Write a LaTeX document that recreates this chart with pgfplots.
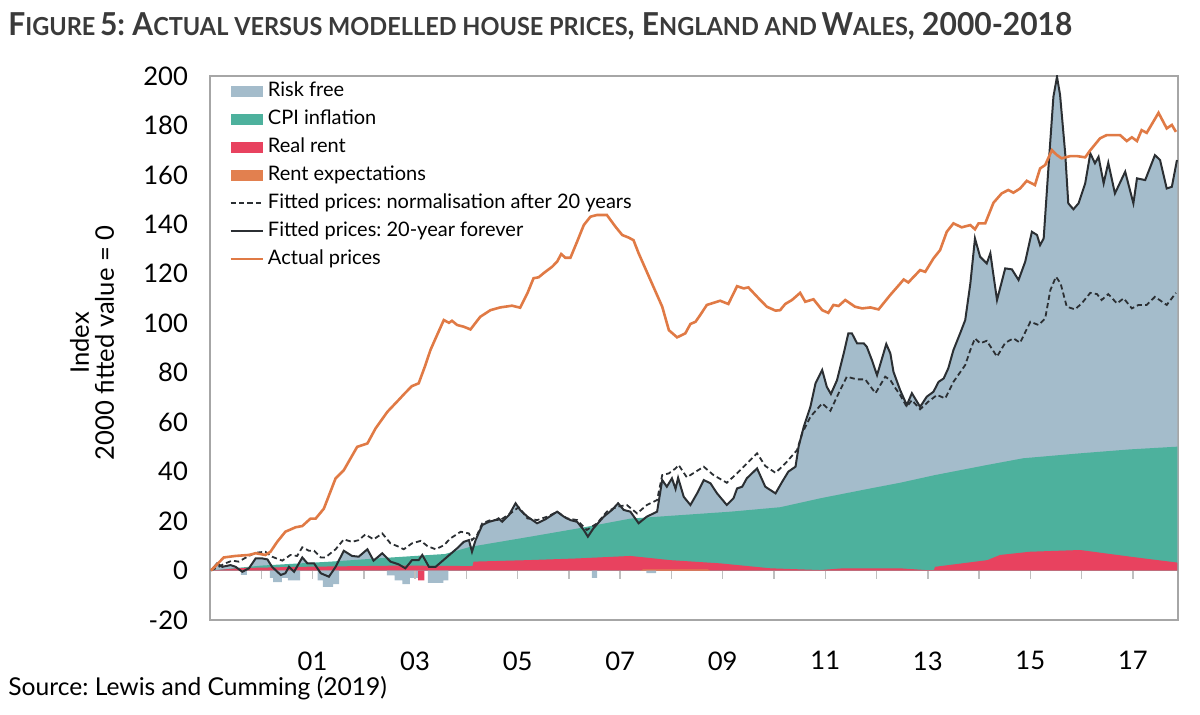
\documentclass[border=0pt]{standalone}
\usepackage{fontspec}
\setmainfont{Lato}
\usepackage{graphicx}
\usepackage{pgfplots}
\pgfplotsset{compat=1.18}
\definecolor{riskc}{HTML}{A4BCCB}
\definecolor{cpic}{HTML}{4DB19D}
\definecolor{rentc}{HTML}{E8425F}
\definecolor{expc}{HTML}{E2804F}
\definecolor{actc}{HTML}{E07A45}
\definecolor{fitc}{HTML}{2B2F33}
\definecolor{framec}{HTML}{A6A6A6}
\definecolor{tickc}{HTML}{BFBFBF}
\definecolor{titlec}{HTML}{3A3A3A}
\newcommand\tbc[1]{{\fontsize{15.8}{18}\selectfont #1}}
\newcommand\tsc[1]{{\fontsize{12.4}{14}\selectfont #1}}
\pgfplotsset{
  myarea/.style={legend image code/.code={\fill[##1] (0pt,-2.75pt) rectangle (16pt,2.75pt);}},
  myline/.style={legend image code/.code={\draw[##1] (0pt,0pt) -- (16pt,0pt);}},
}
\frenchspacing
\begin{document}
\begin{tikzpicture}
\path[use as bounding box] (0pt,0pt) rectangle (600pt,357.5pt);
\node[anchor=base west, inner sep=0pt, text=titlec] at (4pt,339.5pt)
  {\resizebox{532pt}{\height}{\bfseries\tbc{F}\tsc{IGURE} \tbc{5: A}\tsc{CTUAL VERSUS MODELLED HOUSE PRICES}\tbc{, E}\tsc{NGLAND AND} \tbc{W}\tsc{ALES}\tbc{, 2000-2018}}};
\node[anchor=base west, inner sep=0pt] at (4pt,9.5pt) {\fontsize{12.3}{14}\selectfont Source: Lewis and Cumming (2019)};
\node[rotate=90, align=center, font=\fontsize{12.8}{12.5}\selectfont] at (46pt,186pt) {Index\\2000 fitted value = 0};
\begin{axis}[
  at={(105pt,47.5pt)}, anchor=south west, scale only axis,
  width=484pt, height=272pt,
  xmin=1999, xmax=2017.88, ymin=-20, ymax=200,
  ytick={-20,0,20,40,60,80,100,120,140,160,180,200},
  xtick={2001,2003,2005,2007,2009,2011,2013,2015,2017},
  xticklabels={01,03,05,07,09,11,13,15,17},
  major tick length=0pt,
  axis line style={framec, line width=0.6pt},
  tick label style={font=\fontsize{12.8}{14}\selectfont},
  /pgf/number format/assume math mode=true,
  yticklabel style={xshift=-7.5pt},
  xticklabel style={yshift=-12.2pt},
  legend cell align=left,
  legend style={at={(0.0196,0.99)}, anchor=north west, draw=none, fill=none, inner sep=0pt,
    font=\fontsize{10}{12}\selectfont,
    nodes={inner sep=0pt, text height=7.3pt, text depth=2pt},
    row sep=4.7pt,
    /tikz/every odd column/.append style={column sep=2pt}},
]
% Risk free (positive part): top of stack = fitted 20-year forever, floored at 0
\addplot[fill=riskc, draw=none, forget plot] coordinates {
(1999.02,0) (1999.14,2.9) (1999.24,1.5) (1999.40,2.2) (1999.50,1.5) (1999.63,0) (1999.76,0.9) (1999.89,4.9) (2000.02,4.9) (2000.12,4.5) (2000.21,1.5) (2000.38,0) (2000.47,0) (2000.54,1.5) (2000.64,0) (2000.80,5.3) (2000.90,2.9) (2001.03,2.9) (2001.16,0) (2001.32,0) (2001.45,1.5) (2001.61,8) (2001.77,5.9) (2001.90,5.6) (2002.07,8.6) (2002.19,4) (2002.36,7) (2002.52,3.6) (2002.68,2.5) (2002.81,0.9) (2002.94,4.2) (2003.07,4.2) (2003.14,6.3) (2003.27,1.5) (2003.40,1.5) (2003.63,5.6) (2003.82,9) (2003.95,11.6) (2004.05,12.3) (2004.11,7.6) (2004.18,12.3) (2004.31,18.4) (2004.44,19.7) (2004.57,20.4) (2004.63,21.1) (2004.70,19.7) (2004.83,22.4) (2004.96,27.2) (2005.05,24.5) (2005.19,21.8) (2005.38,19.1) (2005.54,20.7) (2005.77,23.8) (2005.90,21.8) (2006.03,20.4) (2006.16,19.7) (2006.29,16.4) (2006.37,13.7) (2006.48,17.1) (2006.68,21.8) (2006.84,24.5) (2006.96,27.2) (2007.07,24.5) (2007.20,23.8) (2007.36,19.1) (2007.52,21.8) (2007.72,23.8) (2007.82,36.6) (2007.91,33.9) (2008.01,37.3) (2008.08,33) (2008.13,37.5) (2008.24,29.8) (2008.37,26.5) (2008.50,31.2) (2008.63,36.6) (2008.76,35.3) (2008.89,31.2) (2009.08,26.5) (2009.21,29.2) (2009.28,33.2) (2009.38,33.9) (2009.47,37.3) (2009.67,41.3) (2009.83,33.9) (2010.03,31.2) (2010.16,35.9) (2010.28,40) (2010.42,42) (2010.48,50.1) (2010.58,58.1) (2010.71,66.2) (2010.81,75.7) (2010.94,81.1) (2011.03,74.3) (2011.11,71.4) (2011.23,77) (2011.36,87.8) (2011.45,95.9) (2011.52,95.9) (2011.62,91.9) (2011.75,91.9) (2011.81,90.5) (2011.91,85.1) (2012.01,79) (2012.19,91.6) (2012.27,87.8) (2012.33,80.4) (2012.46,73) (2012.59,66.9) (2012.69,71.7) (2012.85,66.2) (2012.98,70.3) (2013.11,72.3) (2013.21,76.3) (2013.31,77.7) (2013.40,81.8) (2013.50,89.2) (2013.63,95.9) (2013.73,101.3) (2013.83,116.1) (2013.92,134.3) (2014.02,126.9) (2014.15,124.2) (2014.22,128.3) (2014.35,109.4) (2014.51,122.2) (2014.64,121.8) (2014.77,117.5) (2014.90,124.9) (2015.03,137) (2015.13,135.7) (2015.19,131.6) (2015.26,134.3) (2015.35,162) (2015.45,191.6) (2015.52,199.7) (2015.58,192.3) (2015.68,168.7) (2015.74,148.5) (2015.84,146.1) (2015.94,148.5) (2016.07,156.6) (2016.17,168.7) (2016.26,164.7) (2016.33,167.3) (2016.43,156.6) (2016.52,164.9) (2016.65,152.5) (2016.85,161.3) (2017.01,148.5) (2017.08,158.6) (2017.24,157.9) (2017.43,168) (2017.53,166) (2017.66,154.5) (2017.76,155.2) (2017.87,166)
} \closedcycle;
% CPI inflation (cumulative top: real rent + CPI)
\addplot[fill=cpic, draw=none, forget plot] coordinates {
(1999.02,0) (1999.5,1) (2000.0,2) (2001.35,3.6) (2002.33,5.0) (2003.0,5.9) (2003.59,6.7) (2004.08,9.6) (2005.25,13.7) (2006.17,17) (2007.2,21) (2008.17,22.4) (2009.15,23.8) (2010.12,25.6) (2010.90,29.2) (2011.88,33.2) (2012.46,35.5) (2013.14,38.6) (2014.16,42.7) (2014.86,45.4) (2015.97,47.4) (2016.95,49) (2017.87,50.1)
} \closedcycle;
% Real rent
\addplot[fill=rentc, draw=none, forget plot] coordinates {
(1999.02,0) (1999.6,1) (2000.77,1.5) (2002.72,2) (2004.12,1.8) (2004.14,3.6) (2005.19,4.2) (2006.17,4.9) (2007.2,5.9) (2007.84,4.5) (2007.98,4.2) (2008.95,2.9) (2009.93,0.9) (2010.9,0.2) (2011.35,0.9) (2012.46,0.9) (2012.95,0.2) (2013.12,0.2) (2013.14,1.5) (2014.16,4.2) (2014.41,6.3) (2014.99,7.6) (2015.97,8.3) (2016.95,5.6) (2017.87,3.2)
} \closedcycle;
% Rent expectations (tiny)
\addplot[fill=expc, draw=none, forget plot] coordinates {
(2007.40,0) (2007.45,0.5) (2008.70,0.5) (2008.75,0)
} \closedcycle;
% Risk free (negative part)
\addplot[fill=riskc, draw=none, const plot, forget plot] coordinates {
(1999.02,0) (1999.60,-1.8) (1999.72,0) (2000.17,-3) (2000.23,-4.7) (2000.40,-3) (2000.52,-4) (2000.76,0) (2001.10,-4) (2001.20,-6.6) (2001.40,-5.5) (2001.52,0) (2002.45,-2) (2002.60,-4) (2002.75,-5.5) (2002.90,-3) (2003.08,0) (2003.25,-5) (2003.55,-4) (2003.65,0) (2006.45,-3) (2006.55,0) (2007.51,-1) (2007.70,0)
} \closedcycle;
% Real rent (negative part)
\addplot[fill=rentc, draw=none, const plot, forget plot] coordinates {
(2003.02,0) (2003.06,-4) (2003.18,0)
} \closedcycle;
% Fitted prices: normalisation after 20 years
\addplot[fitc, line width=0.9pt, dash pattern=on 2.6pt off 1.6pt, forget plot] coordinates {
(1999.02,0) (1999.17,1.5) (1999.30,2.9) (1999.43,4) (1999.56,3.6) (1999.73,5.6) (1999.89,7.2) (2000.08,7.6) (2000.21,5.6) (2000.41,4) (2000.57,6.3) (2000.70,5.9) (2000.80,9.4) (2000.93,8) (2001.03,8) (2001.16,5.3) (2001.25,5.3) (2001.45,8.6) (2001.61,12.6) (2001.77,11.6) (2001.90,12.3) (2002.03,14.6) (2002.19,12.6) (2002.36,15) (2002.52,11) (2002.65,9.9) (2002.78,8.6) (2002.94,11) (2003.11,12) (2003.24,9.9) (2003.40,8.6) (2003.56,10.2) (2003.69,13) (2003.89,15.7) (2004.05,15) (2004.11,12.3) (2004.21,14.4) (2004.31,19.1) (2004.47,20.4) (2004.66,20.4) (2004.86,23.1) (2005.02,25.6) (2005.19,21.1) (2005.38,20.4) (2005.58,21.8) (2005.77,23.8) (2005.96,21.1) (2006.16,20.4) (2006.35,16.4) (2006.55,19.1) (2006.74,23.8) (2006.94,25.8) (2007.13,26.5) (2007.33,23.1) (2007.52,26.5) (2007.72,28.5) (2007.82,38.6) (2007.95,39.3) (2008.08,41.3) (2008.14,42.7) (2008.30,37.7) (2008.63,42) (2008.82,38.6) (2009.08,35.5) (2009.28,39.3) (2009.47,43.3) (2009.67,47.4) (2009.83,42.3) (2010.03,39.5) (2010.22,43.3) (2010.45,48.7) (2010.55,55.5) (2010.71,62.2) (2010.94,67.6) (2011.10,64.6) (2011.29,73) (2011.42,78.4) (2011.62,77.3) (2011.78,77.3) (2011.98,71.7) (2012.17,78.4) (2012.27,77) (2012.37,73.7) (2012.46,71) (2012.59,66.2) (2012.69,68.9) (2012.85,65.2) (2013.01,68.3) (2013.18,71) (2013.34,69.6) (2013.50,76.3) (2013.73,83.1) (2013.83,89.2) (2013.92,93.9) (2014.02,91.9) (2014.15,92.9) (2014.35,86.5) (2014.51,92.1) (2014.67,93.9) (2014.80,92.1) (2015.00,100.6) (2015.16,99.3) (2015.29,102) (2015.39,113.4) (2015.50,118.8) (2015.59,116.1) (2015.71,106.7) (2015.87,105.6) (2016.00,108) (2016.17,112.3) (2016.30,111.8) (2016.39,109.4) (2016.52,111.8) (2016.69,108) (2016.82,110.1) (2016.98,106) (2017.11,107.4) (2017.27,107.4) (2017.43,110.7) (2017.66,107.4) (2017.84,112.3)
};
% Fitted prices: 20-year forever
\addplot[fitc, line width=1pt, forget plot] coordinates {
(1999.02,0) (1999.14,2.9) (1999.24,1.5) (1999.40,2.2) (1999.50,1.5) (1999.63,-0.5) (1999.76,0.9) (1999.89,4.9) (2000.02,4.9) (2000.12,4.5) (2000.21,1.5) (2000.38,-1.8) (2000.47,-1.1) (2000.54,1.5) (2000.64,-0.5) (2000.80,5.3) (2000.90,2.9) (2001.03,2.9) (2001.16,-1.1) (2001.32,-2.5) (2001.45,1.5) (2001.61,8) (2001.77,5.9) (2001.90,5.6) (2002.07,8.6) (2002.19,4) (2002.36,7) (2002.52,3.6) (2002.68,2.5) (2002.81,0.9) (2002.94,4.2) (2003.07,4.2) (2003.14,6.3) (2003.27,1.5) (2003.40,1.5) (2003.63,5.6) (2003.82,9) (2003.95,11.6) (2004.05,12.3) (2004.11,7.6) (2004.18,12.3) (2004.31,18.4) (2004.44,19.7) (2004.57,20.4) (2004.63,21.1) (2004.70,19.7) (2004.83,22.4) (2004.96,27.2) (2005.05,24.5) (2005.19,21.8) (2005.38,19.1) (2005.54,20.7) (2005.77,23.8) (2005.90,21.8) (2006.03,20.4) (2006.16,19.7) (2006.29,16.4) (2006.37,13.7) (2006.48,17.1) (2006.68,21.8) (2006.84,24.5) (2006.96,27.2) (2007.07,24.5) (2007.20,23.8) (2007.36,19.1) (2007.52,21.8) (2007.72,23.8) (2007.82,36.6) (2007.91,33.9) (2008.01,37.3) (2008.08,33) (2008.13,37.5) (2008.24,29.8) (2008.37,26.5) (2008.50,31.2) (2008.63,36.6) (2008.76,35.3) (2008.89,31.2) (2009.08,26.5) (2009.21,29.2) (2009.28,33.2) (2009.38,33.9) (2009.47,37.3) (2009.67,41.3) (2009.83,33.9) (2010.03,31.2) (2010.16,35.9) (2010.28,40) (2010.42,42) (2010.48,50.1) (2010.58,58.1) (2010.71,66.2) (2010.81,75.7) (2010.94,81.1) (2011.03,74.3) (2011.11,71.4) (2011.23,77) (2011.36,87.8) (2011.45,95.9) (2011.52,95.9) (2011.62,91.9) (2011.75,91.9) (2011.81,90.5) (2011.91,85.1) (2012.01,79) (2012.19,91.6) (2012.27,87.8) (2012.33,80.4) (2012.46,73) (2012.59,66.9) (2012.69,71.7) (2012.85,66.2) (2012.98,70.3) (2013.11,72.3) (2013.21,76.3) (2013.31,77.7) (2013.40,81.8) (2013.50,89.2) (2013.63,95.9) (2013.73,101.3) (2013.83,116.1) (2013.92,134.3) (2014.02,126.9) (2014.15,124.2) (2014.22,128.3) (2014.35,109.4) (2014.51,122.2) (2014.64,121.8) (2014.77,117.5) (2014.90,124.9) (2015.03,137) (2015.13,135.7) (2015.19,131.6) (2015.26,134.3) (2015.35,162) (2015.45,191.6) (2015.52,199.7) (2015.58,192.3) (2015.68,168.7) (2015.74,148.5) (2015.84,146.1) (2015.94,148.5) (2016.07,156.6) (2016.17,168.7) (2016.26,164.7) (2016.33,167.3) (2016.43,156.6) (2016.52,164.9) (2016.65,152.5) (2016.85,161.3) (2017.01,148.5) (2017.08,158.6) (2017.24,157.9) (2017.43,168) (2017.53,166) (2017.66,154.5) (2017.76,155.2) (2017.86,166)
};
% Actual prices
\addplot[actc, line width=1.3pt, forget plot] coordinates {
(1999.02,0) (1999.27,5.3) (1999.50,5.9) (1999.76,6.3) (1999.89,7.0) (2000.08,6.3) (2000.18,7.6) (2000.31,11.6) (2000.47,15.7) (2000.67,17.5) (2000.80,18) (2000.96,21) (2001.06,21) (2001.22,25) (2001.45,37.3) (2001.61,40.6) (2001.87,50) (2002.07,51.4) (2002.23,57.5) (2002.46,64.2) (2002.68,69) (2002.81,71.9) (2002.94,74.6) (2003.07,75.7) (2003.20,83) (2003.30,89.2) (2003.40,93.9) (2003.56,101.3) (2003.66,100.2) (2003.72,101) (2003.82,99.3) (2003.95,98.6) (2004.08,97.5) (2004.27,102.6) (2004.47,105.3) (2004.66,106.4) (2004.89,107.1) (2005.05,106.3) (2005.19,112.1) (2005.31,118.2) (2005.41,118.6) (2005.54,120.8) (2005.67,122.8) (2005.77,124.9) (2005.85,128) (2005.93,126.5) (2006.03,126.5) (2006.16,133) (2006.29,139.7) (2006.42,143.1) (2006.55,143.8) (2006.74,143.8) (2006.91,139) (2007.04,135.7) (2007.17,134.6) (2007.26,133.6) (2007.36,128.3) (2007.59,117.5) (2007.82,106.7) (2007.95,97.2) (2008.11,94.3) (2008.27,95.9) (2008.37,99.7) (2008.47,100.6) (2008.56,103.3) (2008.69,107.4) (2008.95,109.1) (2009.11,107.8) (2009.28,115) (2009.41,114.1) (2009.50,114.5) (2009.70,110.1) (2009.86,106.7) (2010.03,105.1) (2010.12,105.3) (2010.22,107.8) (2010.35,109.4) (2010.51,112.3) (2010.61,108.7) (2010.77,109.7) (2010.94,105.3) (2011.06,104.2) (2011.16,107.4) (2011.26,107) (2011.39,109.4) (2011.58,106.7) (2011.72,106) (2011.88,106.4) (2012.04,105.6) (2012.27,111.5) (2012.46,116) (2012.53,117.7) (2012.62,116.5) (2012.85,121.5) (2012.95,120.8) (2013.11,126.2) (2013.24,129.6) (2013.37,137) (2013.50,140.4) (2013.66,138.8) (2013.83,139.7) (2013.92,138) (2013.99,140.4) (2014.12,140.4) (2014.28,148.7) (2014.44,152.5) (2014.57,153.9) (2014.67,152.8) (2014.80,154.5) (2014.93,157.6) (2015.09,155.9) (2015.19,162.6) (2015.29,164) (2015.42,170) (2015.52,168) (2015.61,166.7) (2015.78,167.6) (2015.91,167.6) (2016.07,167.1) (2016.17,170) (2016.36,174.8) (2016.49,176.1) (2016.75,176.1) (2016.88,173.7) (2016.98,175.2) (2017.08,173.7) (2017.17,178.1) (2017.27,177) (2017.50,185.1) (2017.66,178.8) (2017.76,180.2) (2017.84,177.4)
};
\pgfplotsinvokeforeach{2000,...,2017}{\draw[tickc, line width=0.7pt] (axis cs:#1,0) -- ([yshift=-4pt]axis cs:#1,0);}
\addlegendimage{myarea, fill=riskc, draw=none}\addlegendentry{Risk free}
\addlegendimage{myarea, fill=cpic, draw=none}\addlegendentry{CPI inflation}
\addlegendimage{myarea, fill=rentc, draw=none}\addlegendentry{Real rent}
\addlegendimage{myarea, fill=expc, draw=none}\addlegendentry{Rent expectations}
\addlegendimage{myline, fitc, line width=0.9pt, dash pattern=on 2.6pt off 1.6pt}\addlegendentry{Fitted prices: normalisation after 20 years}
\addlegendimage{myline, fitc, line width=1pt}\addlegendentry{Fitted prices: 20-year forever}
\addlegendimage{myline, actc, line width=1.3pt}\addlegendentry{Actual prices}
\end{axis}
\end{tikzpicture}
\end{document}
